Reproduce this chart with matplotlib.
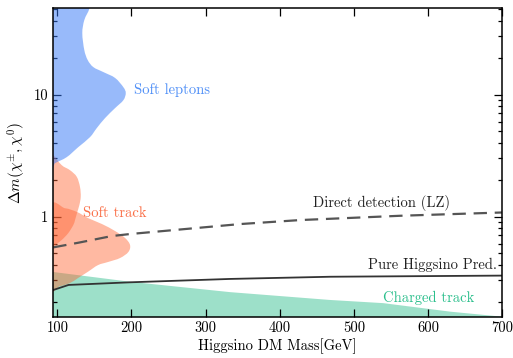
import matplotlib
matplotlib.use("Agg")
import matplotlib.pyplot as plt
import numpy as np
from matplotlib.path import Path
from matplotlib.patches import PathPatch

plt.rcParams["font.family"] = "serif"
plt.rcParams["font.serif"] = ["cmr10", "DejaVu Serif"]
plt.rcParams["mathtext.fontset"] = "cm"
plt.rcParams["axes.unicode_minus"] = False
plt.rcParams["axes.formatter.use_mathtext"] = True

# Soft-lepton reach: outline of the excluded region (mass [GeV], delta m [GeV])
lep_mass = [90, 143.2, 143.2, 136.4, 133.7, 136.4, 141.0, 148.6, 162.1, 177.9, 189.1,
            192.3, 189.1, 177.9, 164.4, 153.2, 144.1, 128.3, 112.7, 96.9, 90]
lep_dm = [60, 60, 50.7, 40.8, 31.9, 23.2, 19.2, 16.8, 15.3, 13.7, 11.5,
          10.3, 9.0, 7.75, 6.42, 5.31, 4.48, 3.71, 3.07, 2.74, 2.55]

# Soft-track reach, upper lobe
trk1_mass = [90, 94.6, 105.9, 117.1, 126.2, 130.6, 131.6, 129.7, 126.6, 123.9,
             121.6, 114.8, 105.9, 96.9, 90]
trk1_dm = [3.3, 3.19, 2.64, 2.40, 2.12, 1.75, 1.45, 1.24, 1.07, 0.936,
           0.852, 0.732, 0.642, 0.584, 0.55]

# Soft-track reach, lower lobe
trk2_mass = [90, 110.4, 126.6, 141.4, 160.3, 177.9, 191.4, 198.1, 195.8, 184.6,
             168.4, 154.9, 141.4, 127.9, 117.1, 103.6, 90]
trk2_dm = [1.17, 1.17, 1.09, 0.972, 0.868, 0.761, 0.667, 0.584, 0.512, 0.457,
           0.424, 0.400, 0.353, 0.313, 0.285, 0.269, 0.269]

# Disappearing (charged) track reach
chg_mass = [90, 94.6, 198.1, 333.1, 468.0, 539.5, 630.0, 700.0, 700.0, 90]
chg_dm = [0.355, 0.351, 0.292, 0.240, 0.207, 0.195, 0.166, 0.151, 0.1, 0.1]

# Pure higgsino mass splitting prediction
pure_mass = [94.6, 115.2, 198.1, 333.1, 468.0, 700.0]
pure_dm = [0.25, 0.275, 0.289, 0.308, 0.321, 0.328]

# LZ direct detection sensitivity
dd_mass = [94.6, 128.3, 173.4, 198.1, 346.6, 427.5, 562.5, 700.0]
dd_dm = [0.559, 0.61, 0.692, 0.719, 0.868, 0.936, 1.015, 1.08]

x_ticks = [100, 200, 300, 400, 500, 600, 700]


def smooth_region(mass, dm):
    """Closed Catmull-Rom outline through the given points, built in (mass, log dm)."""
    p = np.column_stack([np.asarray(mass, float), np.log10(np.asarray(dm, float))])
    n = len(p)
    verts = [p[0]]
    codes = [Path.MOVETO]
    for i in range(n):
        p0, p1, p2, p3 = p[i - 1], p[i], p[(i + 1) % n], p[(i + 2) % n]
        c1 = p1 + (p2 - p0) / 6.0
        c2 = p2 - (p3 - p1) / 6.0
        verts += [c1, c2, p2]
        codes += [Path.CURVE4] * 3
    verts = np.array(verts)
    verts[:, 1] = 10 ** verts[:, 1]
    codes[-1] = Path.CURVE4
    return Path(verts, codes)


fig = plt.figure(figsize=(5.13, 3.58), dpi=100)
ax = fig.add_axes([0.1039, 0.1154, 0.979 - 0.1039, 0.9768 - 0.1154])

ax.fill(chg_mass, chg_dm, color="#9de0c9", lw=0, zorder=1)
for m, d in [(trk1_mass, trk1_dm), (trk2_mass, trk2_dm)]:
    ax.add_patch(PathPatch(smooth_region(m, d), facecolor="#ff6432", alpha=0.45,
                           lw=0, zorder=2))
ax.add_patch(PathPatch(smooth_region(lep_mass, lep_dm), facecolor="#3377f7", alpha=0.5,
                       lw=0, zorder=3))

ax.plot(pure_mass, pure_dm, color="#333333", lw=1.3, zorder=4)
ax.plot(dd_mass, dd_dm, color="#555555", lw=1.6, dashes=(6, 3.5), zorder=4)

ax.text(203.9, 11.0, "Soft leptons", color="#4f8ff7", fontsize=10.5, va="center", ha="left")
ax.text(135.1, 1.074, "Soft track", color="#fa6e46", fontsize=10.5, va="center", ha="left")
ax.text(444.7, 1.283, "Direct detection (LZ)", color="#222222", fontsize=10.5, va="center", ha="left")
ax.text(518.4, 0.40, "Pure Higgsino Pred.", color="#222222", fontsize=10.5, va="center", ha="left")
ax.text(539.1, 0.2135, "Charged track", color="#2bbf8c", fontsize=10.5, va="center", ha="left")

ax.set_yscale("log")
ax.set_xlim(94.6, 700)
ax.set_ylim(0.151, 51)
ax.set_xticks(x_ticks)
ax.set_xticklabels([str(v) for v in x_ticks])
ax.set_yticks([1, 10])
ax.set_yticklabels(["1", "10"])
ax.minorticks_on()
ax.xaxis.set_minor_locator(matplotlib.ticker.NullLocator())
ax.yaxis.set_minor_formatter(matplotlib.ticker.NullFormatter())

ax.tick_params(which="both", direction="in", top=True, right=True, labelsize=10.5, width=0.9)
ax.tick_params(which="major", length=5.5)
ax.tick_params(which="minor", length=3)
for sp in ax.spines.values():
    sp.set_linewidth(1.1)
    sp.set_zorder(6)

ax.set_xlabel("Higgsino DM Mass[GeV]", fontsize=10.5, labelpad=2)
ax.set_ylabel(r"$\Delta m(\chi^{\pm},\chi^{0})$", fontsize=11, labelpad=4)

fig.savefig("out.png", dpi=100)
